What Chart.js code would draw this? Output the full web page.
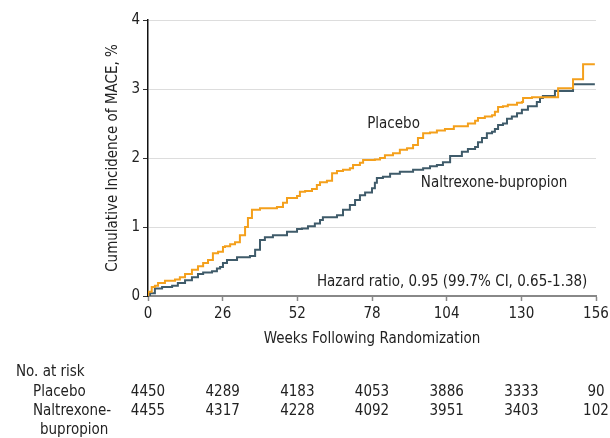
<!DOCTYPE html>
<html>
<head>
<meta charset="utf-8">
<script src="https://cdn.jsdelivr.net/npm/chart.js@4.4.0/dist/chart.umd.min.js"></script>
<style>
  html, body { margin: 0; padding: 0; background: #fff; }
  #wrap { width: 610px; height: 438px; position: relative; }
</style>
</head>
<body>
<div id="wrap"><canvas id="kmchart" width="610" height="438"></canvas></div>
<script>
// Weeks and cumulative incidence (%)
const placeboWeeks = [0, 0.1, 1.3, 2.4, 3.5, 5.9, 9.4, 11.1, 12.9, 15.3, 17.4, 19.2, 20.9, 22.6, 24.4, 26.1, 26.8, 28.6, 30.3, 32.0, 33.8, 34.8, 36.2, 39.0, 44.9, 47.0, 48.4, 51.9, 52.9, 54.7, 57.1, 58.8, 59.9, 62.3, 64.1, 65.8, 67.9, 70.3, 71.4, 73.8, 74.9, 79.0, 80.8, 82.5, 85.3, 87.7, 90.2, 92.3, 94.0, 95.8, 98.2, 100.6, 103.4, 106.5, 111.4, 113.9, 114.9, 117.3, 119.8, 120.8, 121.9, 123.6, 125.3, 128.5, 130.2, 130.6, 133.7, 142.8, 148.0, 151.5, 155.6];
const placeboValues = [0, 0.06, 0.13, 0.15, 0.19, 0.22, 0.24, 0.27, 0.32, 0.38, 0.43, 0.48, 0.52, 0.62, 0.64, 0.71, 0.72, 0.75, 0.78, 0.88, 1.0, 1.13, 1.25, 1.27, 1.29, 1.35, 1.42, 1.45, 1.51, 1.52, 1.55, 1.61, 1.65, 1.67, 1.78, 1.81, 1.83, 1.85, 1.9, 1.93, 1.97, 1.98, 2.0, 2.04, 2.07, 2.12, 2.14, 2.19, 2.29, 2.36, 2.37, 2.4, 2.42, 2.46, 2.5, 2.54, 2.58, 2.6, 2.62, 2.67, 2.74, 2.75, 2.77, 2.8, 2.81, 2.87, 2.88, 3.01, 3.14, 3.36, 3.36];

const nbWeeks = [0, 0.7, 2.4, 4.9, 8.4, 10.4, 12.9, 15.3, 17.4, 19.2, 22.3, 24.0, 25.1, 26.1, 27.5, 31.0, 35.5, 37.3, 39.0, 40.7, 43.5, 48.4, 51.9, 53.6, 55.7, 58.1, 59.9, 60.9, 65.8, 67.9, 70.3, 72.1, 73.8, 75.6, 78.0, 79.0, 79.7, 81.8, 84.3, 87.7, 92.3, 95.8, 98.2, 100.6, 102.7, 105.2, 109.3, 111.4, 113.9, 114.9, 116.3, 118.0, 119.8, 120.8, 121.9, 123.6, 125.0, 126.7, 128.5, 130.2, 132.3, 135.4, 136.5, 137.5, 141.7, 148.0, 155.6];
const nbValues = [0, 0.04, 0.11, 0.13, 0.15, 0.19, 0.23, 0.27, 0.32, 0.34, 0.36, 0.4, 0.42, 0.48, 0.52, 0.56, 0.58, 0.67, 0.81, 0.85, 0.88, 0.93, 0.97, 0.98, 1.01, 1.05, 1.1, 1.14, 1.17, 1.25, 1.32, 1.39, 1.46, 1.5, 1.56, 1.64, 1.71, 1.73, 1.77, 1.8, 1.83, 1.85, 1.88, 1.9, 1.94, 2.03, 2.09, 2.13, 2.16, 2.23, 2.29, 2.36, 2.38, 2.42, 2.48, 2.5, 2.57, 2.6, 2.65, 2.7, 2.75, 2.81, 2.87, 2.9, 2.97, 3.07, 3.07];

// Number at risk table
const riskWeeks = [0, 26, 52, 78, 104, 130, 156];
const riskPlacebo = [4450, 4289, 4183, 4053, 3886, 3333, 90];
const riskNB = [4455, 4317, 4228, 4092, 3951, 3403, 102];

const FONT = '"Liberation Sans Narrow", "DejaVu Sans Condensed", "Roboto Condensed", "Open Sans", sans-serif';
const ORANGE = '#F4A01C';
const NAVY = '#3F5B6A';
const TEXT = '#222';

const toPoints = (xs, ys) => xs.map((x, i) => ({ x: x, y: ys[i] }));

// labels in plot + risk table below the axis
const annotations = {
  id: 'annotations',
  afterDraw(chart) {
    const ctx = chart.ctx;
    const xs = chart.scales.x;
    const ys = chart.scales.y;
    ctx.save();
    ctx.fillStyle = TEXT;
    ctx.font = '15px ' + FONT;
    ctx.textBaseline = 'middle';

    ctx.textAlign = 'center';
    ctx.fillText('Placebo', xs.getPixelForValue(85.5), ys.getPixelForValue(2.49));
    ctx.fillText('Naltrexone-bupropion', xs.getPixelForValue(120.5), ys.getPixelForValue(1.63));
    ctx.textAlign = 'right';
    ctx.fillText('Hazard ratio, 0.95 (99.7% CI, 0.65-1.38)', xs.getPixelForValue(153), ys.getPixelForValue(0.2));

    ctx.textAlign = 'left';
    ctx.fillText('No. at risk', 16, 372);
    ctx.fillText('Placebo', 33, 392);
    ctx.fillText('Naltrexone-', 33, 411);
    ctx.fillText('bupropion', 40, 430);

    ctx.textAlign = 'center';
    riskWeeks.forEach((w, i) => {
      const px = xs.getPixelForValue(w);
      ctx.fillText(String(riskPlacebo[i]), px, 392);
      ctx.fillText(String(riskNB[i]), px, 411);
    });
    ctx.restore();
  }
};

const ctx = document.getElementById('kmchart').getContext('2d');
new Chart(ctx, {
  type: 'line',
  data: {
    datasets: [{
      label: 'Placebo',
      data: toPoints(placeboWeeks, placeboValues),
      borderColor: ORANGE,
      borderWidth: 2,
      stepped: true,
      pointRadius: 0,
      fill: false
    }, {
      label: 'Naltrexone-bupropion',
      data: toPoints(nbWeeks, nbValues),
      borderColor: NAVY,
      borderWidth: 2,
      stepped: true,
      pointRadius: 0,
      fill: false
    }]
  },
  options: {
    responsive: false,
    animation: false,
    layout: { padding: { left: 97, right: 14, top: 20, bottom: 86 } },
    scales: {
      x: {
        type: 'linear',
        min: 0,
        max: 156,
        afterFit: (scale) => { scale.height = 56; scale.paddingRight = 0; scale.paddingLeft = 0; },
        ticks: { stepSize: 26, color: TEXT, font: { family: FONT, size: 15 }, padding: 4 },
        grid: { drawOnChartArea: false, tickLength: 5, tickColor: '#888', tickWidth: 1.5 },
        border: { color: '#888', width: 2 },
        title: {
          display: true,
          text: 'Weeks Following Randomization',
          color: TEXT,
          font: { family: FONT, size: 15 },
          padding: { top: 0, bottom: 4 }
        }
      },
      y: {
        min: 0,
        max: 4,
        afterFit: (scale) => { scale.width = 51; scale.paddingTop = 0; },
        ticks: { stepSize: 1, color: TEXT, font: { family: FONT, size: 15 }, padding: 3 },
        grid: {
          color: (c) => c.tick && c.tick.value === 0 ? 'rgba(0,0,0,0)' : '#dddddd',
          tickColor: '#333',
          tickLength: 5
        },
        border: { color: '#111', width: 1.5 },
        title: {
          display: true,
          text: 'Cumulative Incidence of MACE, %',
          color: TEXT,
          font: { family: FONT, size: 15 },
          padding: { top: 7, bottom: 0 }
        }
      }
    },
    plugins: {
      legend: { display: false },
      tooltip: { enabled: false }
    }
  },
  plugins: [annotations]
});
</script>
</body>
</html>
